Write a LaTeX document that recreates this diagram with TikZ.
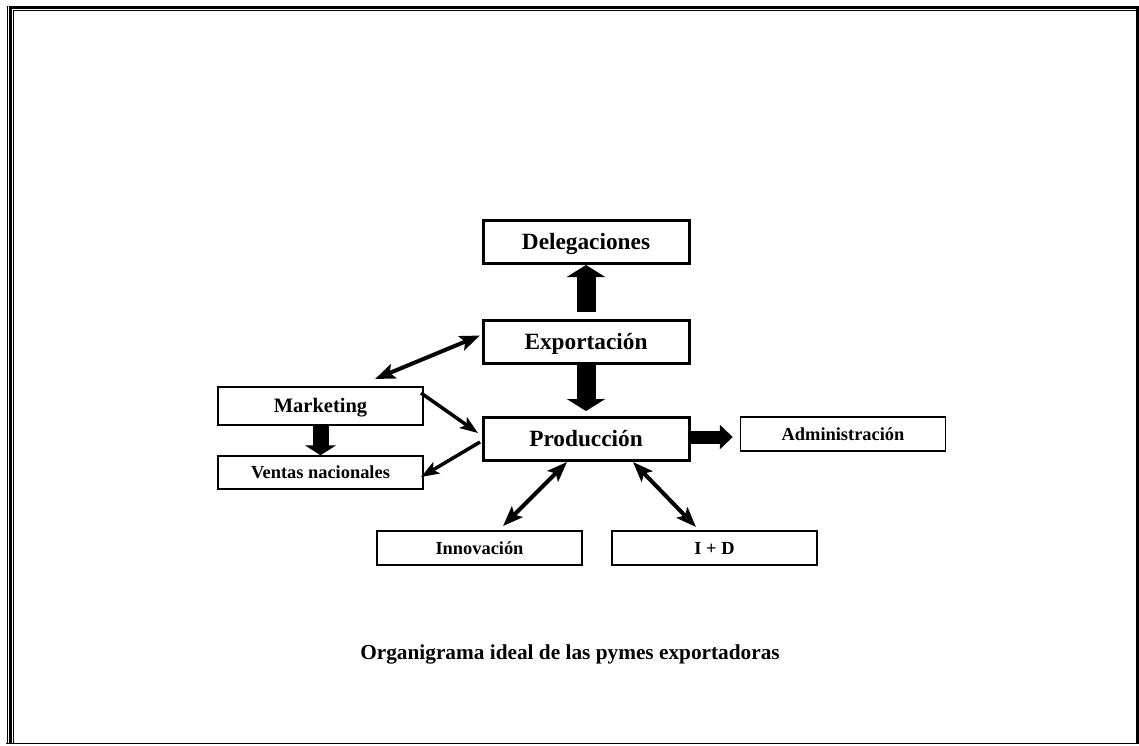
\documentclass[tikz,border=0pt]{standalone}
\usepackage{fontspec}
\setmainfont{Liberation Serif}
\usetikzlibrary{arrows.meta,positioning}

\begin{document}
\begin{tikzpicture}[x=1pt, y=-1pt,
    caja/.style={draw, line width=1.5pt, minimum width=205pt, minimum height=34pt, inner sep=0pt, text height=12.2pt, text depth=0pt, font=\bfseries\fontsize{18.4}{20}\selectfont},
    cajag/.style={caja, line width=3pt, minimum width=206pt, minimum height=43pt, text height=15.4pt, font=\bfseries\fontsize{23.3}{26}\selectfont},
    bloque/.style={-{Triangle[length=12pt,width=38pt]}, line width=19pt},
    doble/.style={{Stealth[length=20pt,width=15pt,inset=4pt]}-{Stealth[length=20pt,width=15pt,inset=4pt]}, line width=4pt},
    simple/.style={-{Stealth[length=18pt,width=13pt,inset=4pt]}, line width=3.5pt}]
    \useasboundingbox (0,0) rectangle (1139,745);

    \draw[line width=3pt] (10.5,744) -- (10.5,7.5) -- (1137.5,7.5) -- (1137.5,744);
    \draw[line width=1pt] (7.5,744) -- (7.5,6);
    \draw[line width=1pt] (13.5,744) -- (13.5,10.5) -- (1136,10.5);
    \draw[line width=1pt] (6,743.5) -- (1139,743.5);

    \node[cajag] (prod) at (586,439) {Producción};
    \node[cajag, above=51pt of prod] (export) {Exportación};
    \node[cajag, above=54pt of export] (deleg) {Delegaciones};
    \node[caja, line width=2.5pt, minimum height=38pt, text height=13.6pt, font=\bfseries\fontsize{20.5}{23}\selectfont] (mkt) at (320.5,406) {Marketing};
    \node[caja, minimum height=33pt, below=29pt of mkt] (vtas) {Ventas nacionales};
    \node[caja] (admin) at (843,434) {Administración};
    \node[caja] (innov) at (479.5,548) {Innovación};
    \node[caja, right=28.5pt of innov] (imasd) {I + D};
    \node[anchor=base, font=\bfseries\fontsize{21.3}{24}\selectfont] (titulo) at (570,659) {Organigrama ideal de las pymes exportadoras};

    \draw[bloque, shorten <=7pt] (export) -- (deleg);
    \draw[bloque, shorten >=5pt] (export) -- (prod);
    \draw[bloque, -{Triangle[length=10pt,width=31pt]}, line width=16pt] (mkt) -- (vtas);
    \draw[bloque, -{Triangle[length=13pt,width=24pt]}, line width=13pt, shorten >=7pt] ([yshift=2pt]prod.east) -- ([yshift=2pt]prod.east -| admin.west);

    \draw[doble] ([xshift=-1.5pt,yshift=6.5pt]export.west) -- ([xshift=54.5pt,yshift=6.75pt]mkt.north);
    \draw[simple] ([xshift=-3.25pt,yshift=-7.25pt]mkt.north east) -- ([xshift=-3.5pt,yshift=6pt]prod.west);
    \draw[simple] ([xshift=-1.5pt,yshift=-3pt]prod.west) -- ([xshift=-2.75pt,yshift=-4.5pt]vtas.east);
    \draw[doble] ([xshift=-19pt]prod.south) -- ([xshift=23.5pt,yshift=4.25pt]innov.north);
    \draw[doble] ([xshift=47pt]prod.south) -- ([xshift=-18.5pt,yshift=3.25pt]imasd.north);
\end{tikzpicture}
\end{document}
